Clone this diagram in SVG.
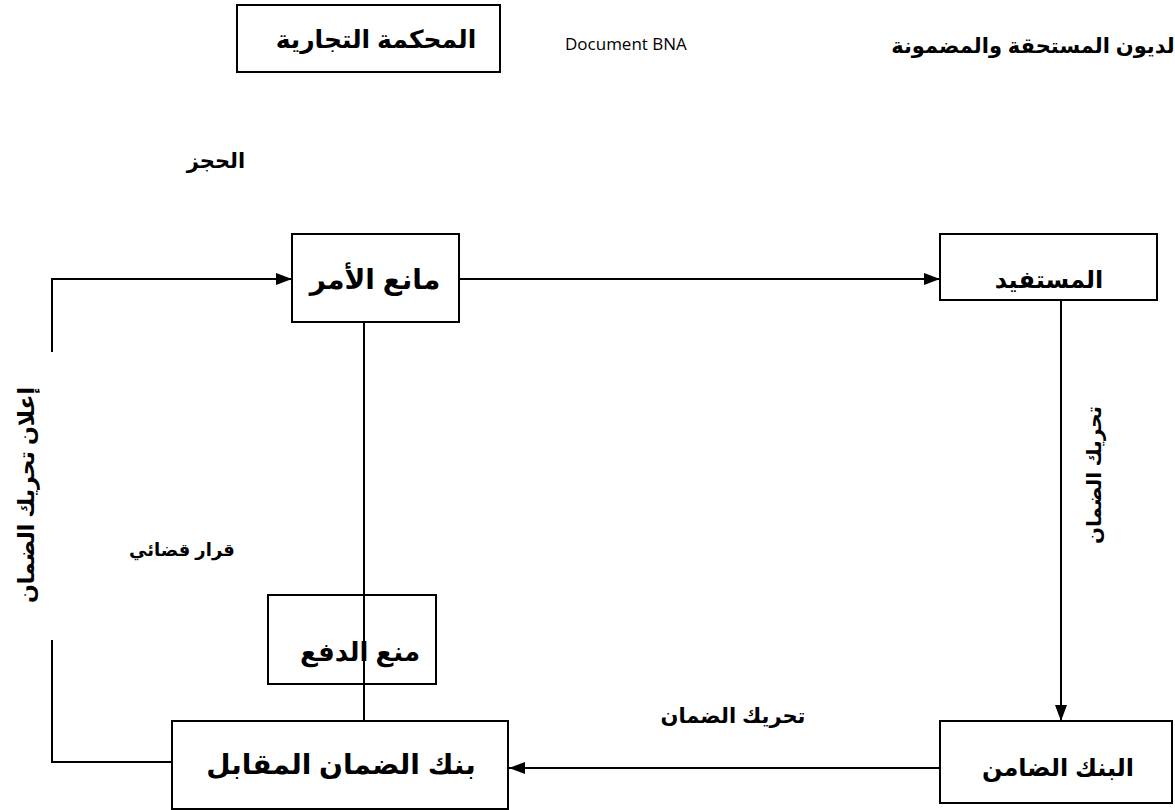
<svg xmlns="http://www.w3.org/2000/svg" width="1175" height="810" viewBox="0 0 1175 810">
  <style>
    .box { fill: #ffffff; stroke: #000000; stroke-width: 2; }
    .line { fill: none; stroke: #000000; stroke-width: 2; }
    .ar { font-family: "Liberation Sans", "DejaVu Sans", sans-serif; font-weight: bold; fill: #000000; direction: rtl; text-anchor: middle; }
    .lat { font-family: "Open Sans", "Noto Sans", sans-serif; fill: #000000; }
  </style>
  <defs>
    <marker id="arrow" viewBox="0 0 16 12" refX="16" refY="6" markerWidth="16" markerHeight="12" markerUnits="userSpaceOnUse" orient="auto">
      <path d="M0,0 L16,6 L0,12 Z" fill="#000000"/>
    </marker>
  </defs>
  <rect width="1175" height="810" fill="#ffffff"/>

  <!-- header -->
  <g id="court">
    <rect class="box" x="237" y="5" width="263" height="67"/>
    <text class="ar" x="376" y="48" font-size="25">المحكمة التجارية</text>
  </g>
  <text class="lat" x="565" y="50" font-size="17">Document BNA</text>
  <text class="ar" x="1033" y="53" font-size="21">لديون المستحقة والمضمونة</text>
  <text class="ar" x="216" y="168" font-size="21">الحجز</text>

  <!-- connectors -->
  <g id="connectors">
    <path class="line" d="M52,352 L52,279 L292,279" marker-end="url(#arrow)"/>
    <path class="line" d="M172,762 L52,762 L52,640"/>
    <path class="line" d="M460,279 L940,279" marker-end="url(#arrow)"/>
    <path class="line" d="M1061,300 L1061,721" marker-end="url(#arrow)"/>
    <path class="line" d="M940,768 L509,768" marker-end="url(#arrow)"/>
    <path class="line" d="M364,322 L364,595"/>
    <path class="line" d="M364,684 L364,721"/>
  </g>

  <!-- connector labels -->
  <text class="ar" transform="translate(34,495) rotate(-90)" font-size="22">إعلان تحريك الضمان</text>
  <text class="ar" transform="translate(1101,475) rotate(-90)" font-size="20">تحريك الضمان</text>
  <text class="ar" x="733" y="723" font-size="21">تحريك الضمان</text>
  <text class="ar" x="182" y="556" font-size="18">قرار قضائي</text>

  <!-- nodes -->
  <g id="ordering-party">
    <rect class="box" x="292" y="234" width="167" height="88"/>
    <text class="ar" x="375" y="289" font-size="28">مانع الأمر</text>
  </g>
  <g id="beneficiary">
    <rect class="box" x="940" y="234" width="217" height="66"/>
    <text class="ar" x="1049" y="288" font-size="24">المستفيد</text>
  </g>
  <g id="guarantor-bank">
    <rect class="box" x="940" y="721" width="232" height="82"/>
    <text class="ar" x="1058" y="776" font-size="24">البنك الضامن</text>
  </g>
  <g id="counter-guarantee-bank">
    <rect class="box" x="172" y="721" width="336" height="88"/>
    <text class="ar" x="341" y="774" font-size="28">بنك الضمان المقابل</text>
  </g>
  <g id="payment-stop">
    <rect class="box" x="268" y="595" width="168" height="89"/>
    <text class="ar" x="360" y="661" font-size="26">منع الدفع</text>
    <line class="line" x1="364" y1="595" x2="364" y2="684"/>
  </g>
</svg>
